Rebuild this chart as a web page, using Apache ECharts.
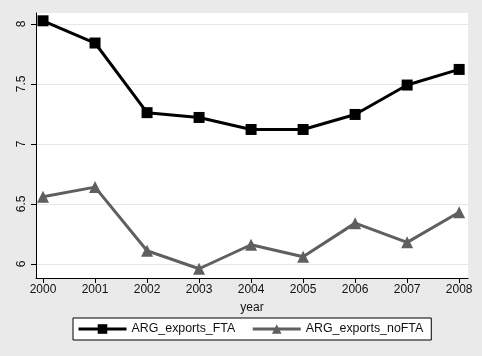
<!DOCTYPE html>
<html>
<head>
<meta charset="utf-8">
<script src="https://cdn.jsdelivr.net/npm/echarts@6/dist/echarts.min.js"></script>
<style>
  html, body { margin: 0; padding: 0; background: #eaeaea; }
  #chart { width: 482px; height: 356px; }
</style>
</head>
<body>
<div id="chart"></div>
<script>
const years = [2000, 2001, 2002, 2003, 2004, 2005, 2006, 2007, 2008]
const exportsFTA = [8.025, 7.84, 7.26, 7.22, 7.12, 7.12, 7.245, 7.49, 7.62]
const exportsNoFTA = [6.56, 6.64, 6.11, 5.96, 6.16, 6.06, 6.34, 6.18, 6.43]
const yTicks = [6, 6.5, 7, 7.5, 8]

const font = 'Liberation Sans, Arial, sans-serif'
const chart = echarts.init(document.getElementById('chart'))

chart.setOption({
    backgroundColor: '#eaeaea',
    animation: false,
    textStyle: { fontFamily: font },
    grid: {
        left: 36, right: 14, top: 13, bottom: 78,
        show: true, backgroundColor: '#fff', borderWidth: 0
    },
    legend: {
        left: 73, top: 318,
        padding: [5, 8, 5, 4],
        itemGap: 16,
        itemWidth: 48,
        itemHeight: 12,
        backgroundColor: '#fff',
        borderColor: '#000',
        borderWidth: 1,
        borderRadius: 0,
        lineStyle: { width: 3 },
        textStyle: { fontSize: 12.4, color: '#111', fontFamily: font },
        data: ['ARG_exports_FTA', 'ARG_exports_noFTA']
    },
    xAxis: {
        type: 'value',
        min: 1999.865,
        max: 2008.17,
        name: 'year',
        nameLocation: 'middle',
        nameGap: 24,
        nameTextStyle: { fontSize: 12, color: '#111' },
        axisLine: { show: true, lineStyle: { color: '#000', width: 1 } },
        axisTick: { show: true, length: 5, lineStyle: { color: '#000' }, customValues: years },
        axisLabel: { fontSize: 12, color: '#111', margin: 6, customValues: years, formatter: v => String(v) },
        splitLine: { show: false }
    },
    yAxis: {
        type: 'value',
        min: 5.883,
        max: 8.09,
        axisLine: { show: true, lineStyle: { color: '#000', width: 1 } },
        axisTick: { show: true, length: 5, lineStyle: { color: '#000' }, customValues: yTicks },
        axisLabel: { fontSize: 12, color: '#111', rotate: 90, margin: 8, customValues: yTicks, formatter: v => String(v) },
        splitLine: { show: true, lineStyle: { color: '#e6e6e6', width: 1 } }
    },
    series: [
        {
            name: 'ARG_exports_FTA',
            type: 'line',
            data: years.map((y, i) => [y, exportsFTA[i]]),
            symbol: 'rect',
            symbolSize: 11,
            itemStyle: { color: '#000' },
            lineStyle: { color: '#000', width: 3 }
        },
        {
            name: 'ARG_exports_noFTA',
            type: 'line',
            data: years.map((y, i) => [y, exportsNoFTA[i]]),
            symbol: 'triangle',
            symbolSize: 12,
            itemStyle: { color: '#5f5f5f' },
            lineStyle: { color: '#5f5f5f', width: 3 }
        }
    ]
})
</script>
</body>
</html>
